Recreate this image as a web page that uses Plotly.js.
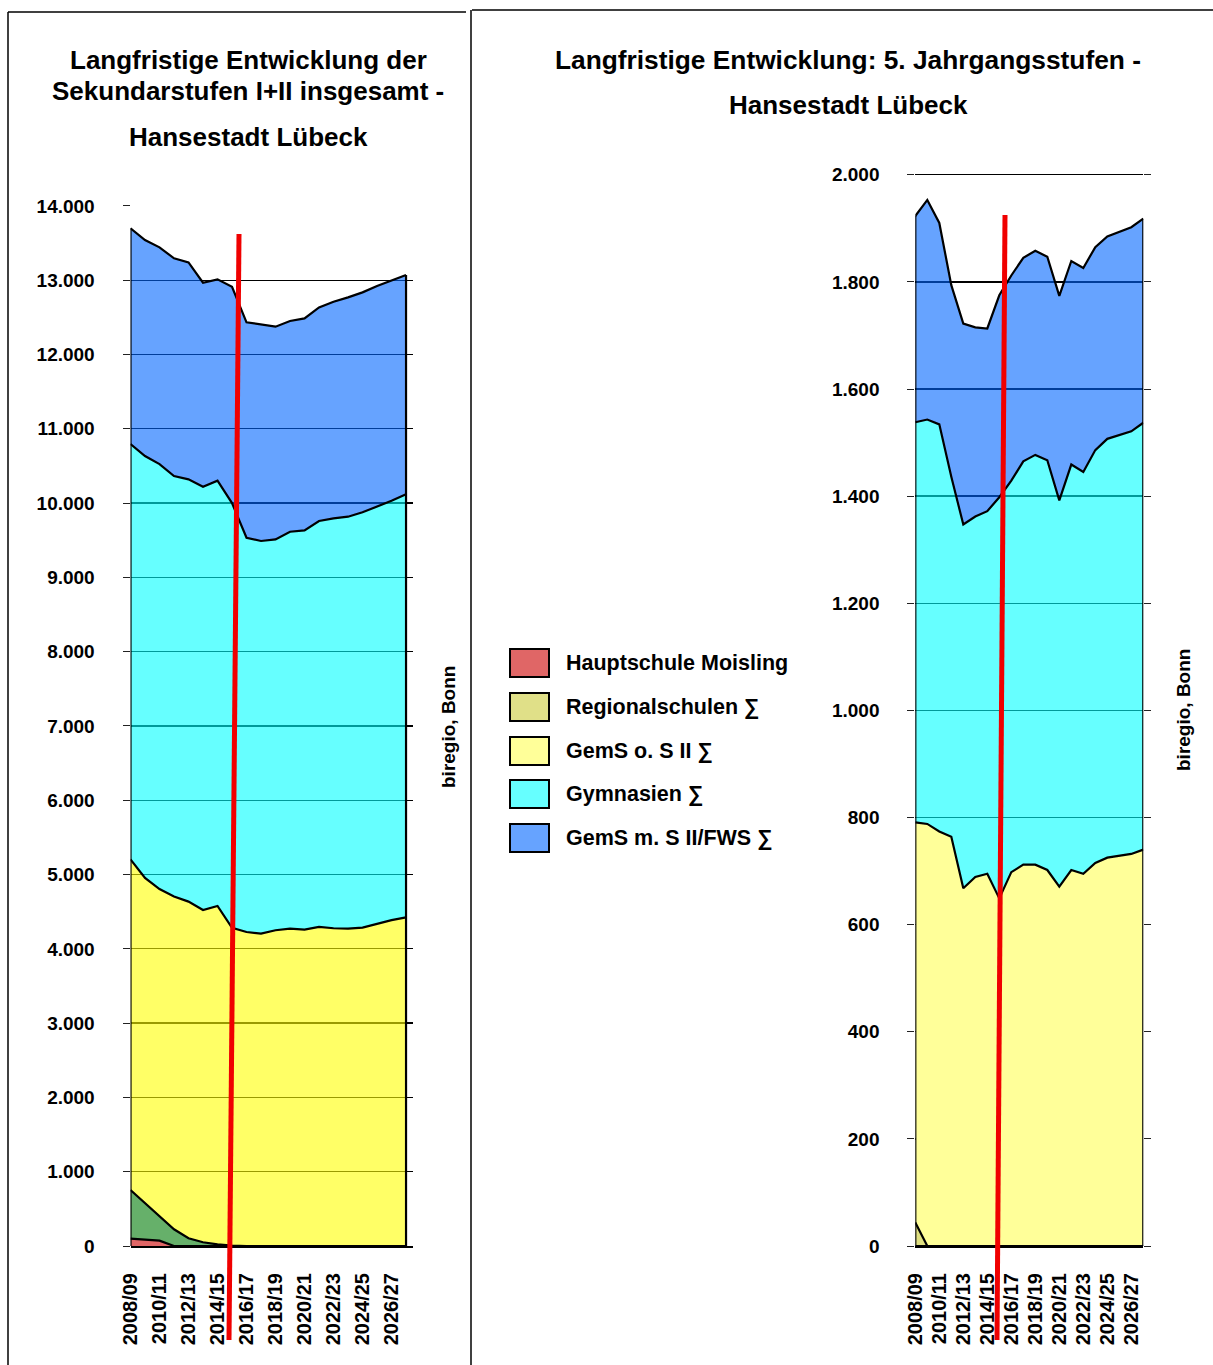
<!DOCTYPE html>
<html><head><meta charset="utf-8">
<script src="https://cdn.plot.ly/plotly-3.0.1.min.js"></script>
<style>html,body{margin:0;padding:0;background:#fff;} #chart{width:1213px;height:1365px;}</style>
</head><body><div id="chart"></div>
<script>
// ---------- data ----------
const years = ['2008/09','2009/10','2010/11','2011/12','2012/13','2013/14','2014/15','2015/16','2016/17','2017/18',
               '2018/19','2019/20','2020/21','2021/22','2022/23','2023/24','2024/25','2025/26','2026/27','2027/28'];
const seriesNames = ['Hauptschule Moisling','Regionalschulen \u2211','GemS o. S II \u2211','Gymnasien \u2211','GemS m. S II/FWS \u2211'];

// Left: Sekundarstufen I+II insgesamt
const leftHaupt    = [100,88,72,0,0,0,0,0,0,0,0,0,0,0,0,0,0,0,0,0];
const leftRegional = [654,487,336,225,104,50,23,5,0,0,0,0,0,0,0,0,0,0,0,0];
const leftGemSo    = [4451,4380,4397,4480,4532,4473,4554,4277,4227,4205,4250,4273,4259,4295,4277,4273,4286,4341,4386,4423];
const leftGym      = [5591,5679,5721,5660,5684,5698,5725,5718,5307,5285,5262,5342,5375,5464,5518,5544,5590,5610,5646,5695];
const leftGemSm    = [2904,2908,2917,2930,2921,2746,2710,2913,2900,2917,2863,2836,2853,2876,2916,2953,2961,2971,2961,2952];

// Right: 5. Jahrgangsstufen
const rightHaupt    = [0,0,0,0,0,0,0,0,0,0,0,0,0,0,0,0,0,0,0,0];
const rightRegional = [44,0,0,0,0,0,0,0,0,0,0,0,0,0,0,0,0,0,0,0];
const rightGemSo    = [747,788,774,764,668,689,695,649,698,712,712,702,671,702,695,715,725,729,732,740];
const rightGym      = [747,755,760,672,679,673,677,749,731,753,765,765,721,757,750,771,782,785,789,797];
const rightGemSm    = [385,410,376,358,375,353,341,377,383,380,381,380,382,380,381,379,378,379,381,381];

// ---------- styles ----------
const FONT = 'Liberation Sans, Arial, sans-serif';
const leftColors  = ['#e06666','rgba(0,123,7,0.6)','rgba(255,255,0,0.6)','rgba(0,255,255,0.6)','rgba(0,102,255,0.6)'];
const rightColors = ['#e06666','#e0e080','#ffff99','rgba(0,255,255,0.6)','rgba(0,102,255,0.6)'];
const legendColors = ['#e06666','#e0e088','#ffff99','#66ffff','#66a3ff'];

const leftSeries = [leftHaupt, leftRegional, leftGemSo, leftGym, leftGemSm];
const rightSeries = [rightHaupt, rightRegional, rightGemSo, rightGym, rightGemSm];

const traces = [];
function addStack(series, colors, xa, ya, group) {
  series.forEach((vals, i) => {
    traces.push({
      type: 'scatter', mode: 'lines', x: years, y: vals, name: seriesNames[i],
      stackgroup: group, fill: 'tonexty', fillcolor: colors[i],
      line: {color: '#000', width: 2.2}, xaxis: xa, yaxis: ya, showlegend: false,
      hoverinfo: 'x+y+name'
    });
  });
  // vertical edges of the stacked area
  const last = years.length - 1;
  const tot0 = series.reduce((s, v) => s + v[0], 0);
  const totN = series.reduce((s, v) => s + v[last], 0);
  [[years[0], tot0], [years[last], totN]].forEach(([xv, tv]) => {
    traces.push({type: 'scatter', mode: 'lines', x: [xv, xv], y: [0, tv],
      line: {color: '#000', width: 2.2}, xaxis: xa, yaxis: ya, showlegend: false, hoverinfo: 'skip'});
  });
}
addStack(leftSeries, leftColors, 'x', 'y', 'L');
addStack(rightSeries, rightColors, 'x2', 'y2', 'R');

const W = 1213, H = 1365;
const px = v => v / W, py = v => 1 - v / H;

const xTickVals = years.filter((y, i) => i % 2 === 0);
const tickFont = {family: FONT, size: 19, color: '#000', weight: 'bold'};
const xTickFont = {family: FONT, size: 20, color: '#000', weight: 'bold'};

const axisX = (domain, range) => ({
  domain: domain, type: 'category', categoryorder: 'array', categoryarray: years,
  range: range, tickmode: 'array', tickvals: xTickVals, ticktext: xTickVals,
  tickangle: -90, tickfont: xTickFont, ticks: '', showgrid: false, zeroline: false,
  showline: true, linecolor: '#000', linewidth: 2, ticklabelstandoff: 17, fixedrange: true
});
const axisY = (domain, range, dtick, anchor, mirror) => ({
  domain: domain, range: range, dtick: dtick, tick0: 0, anchor: anchor, tickformat: ',d',
  showgrid: true, gridcolor: '#000', gridwidth: 1.3, zeroline: false,
  ticks: 'outside', ticklen: 7, tickcolor: '#222', tickwidth: 1,
  showline: false, mirror: mirror, tickfont: tickFont, separatethousands: true,
  ticklabelstandoff: 24, fixedrange: true
});

const shapes = [
  // panel frames
  {type: 'line', xref: 'paper', yref: 'paper', x0: px(8), x1: px(466), y0: py(12), y1: py(12), line: {color: '#000', width: 1.5}},
  {type: 'line', xref: 'paper', yref: 'paper', x0: px(8), x1: px(8), y0: py(12), y1: 0, line: {color: '#000', width: 1.5}},
  {type: 'line', xref: 'paper', yref: 'paper', x0: px(472), x1: px(1213), y0: py(10), y1: py(10), line: {color: '#000', width: 1.5}},
  {type: 'line', xref: 'paper', yref: 'paper', x0: px(471), x1: px(471), y0: py(10), y1: 0, line: {color: '#000', width: 1.5}},
  // red marker lines
  {type: 'line', xref: 'paper', yref: 'paper', x0: px(239), x1: px(229), y0: py(234), y1: py(1340), line: {color: '#f00000', width: 5}},
  {type: 'line', xref: 'paper', yref: 'paper', x0: px(1005), x1: px(997), y0: py(215), y1: py(1340), line: {color: '#f00000', width: 5}}
];

const annotations = [];
const titleFont = {family: FONT, size: 26, color: '#000', weight: 'bold'};
function txt(text, x, y, opts) {
  annotations.push(Object.assign({text: text, xref: 'paper', yref: 'paper', x: px(x), y: py(y),
    showarrow: false, xanchor: 'center', yanchor: 'middle', font: titleFont}, opts || {}));
}
txt('Langfristige Entwicklung der', 248, 60);
txt('Sekundarstufen I+II insgesamt -', 248, 91);
txt('Hansestadt Lübeck', 248, 137);
txt('Langfristige Entwicklung: 5. Jahrgangsstufen -', 848, 60, {font: {family: FONT, size: 26.3, color: '#000', weight: 'bold'}});
txt('Hansestadt Lübeck', 848, 105);
txt('biregio, Bonn', 448, 727, {textangle: -90, font: {family: FONT, size: 19, color: '#000', weight: 'bold'}});
txt('biregio, Bonn', 1183, 710, {textangle: -90, font: {family: FONT, size: 19, color: '#000', weight: 'bold'}});

// manual legend (large boxes like the original)
const legY = [663, 707, 751, 794, 838];
seriesNames.forEach((n, i) => {
  shapes.push({type: 'rect', xref: 'paper', yref: 'paper', x0: px(510), x1: px(549), y0: py(legY[i] - 14), y1: py(legY[i] + 14),
    fillcolor: legendColors[i], line: {color: '#000', width: 2}});
  txt(n, 564, legY[i], {xanchor: 'left', font: {family: FONT, size: 21.5, color: '#000', weight: 'bold'}});
});

const layout = {
  width: W, height: H, margin: {l: 0, r: 0, t: 0, b: 0}, paper_bgcolor: '#fff', plot_bgcolor: 'rgba(0,0,0,0)',
  separators: ',.', showlegend: false, font: {family: FONT, color: '#000'},
  xaxis: axisX([px(130.5), px(413)], [0, 19.48]),
  yaxis: axisY([py(1246), py(205)], [0, 14013], 1000, 'x', false),
  xaxis2: axisX([px(915.3), px(1143.3)], [0, 19]),
  yaxis2: axisY([py(1246), py(173.7)], [0, 2002], 200, 'x2', 'ticks'),
  shapes: shapes, annotations: annotations
};
layout.xaxis2.anchor = 'y2';
layout.xaxis.anchor = 'y';

Plotly.newPlot('chart', traces, layout, {displayModeBar: false, staticPlot: true});
</script></body></html>
